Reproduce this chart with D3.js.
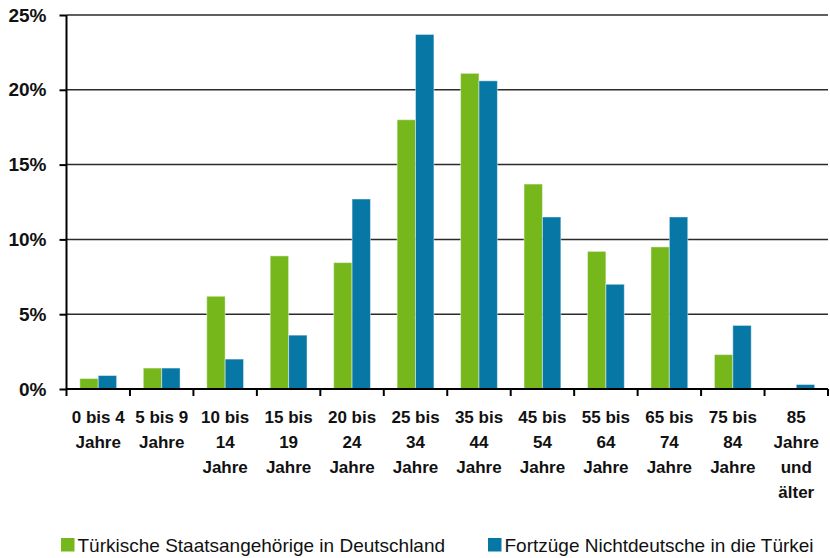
<!DOCTYPE html>
<html>
<head>
<meta charset="utf-8">
<script src="https://cdnjs.cloudflare.com/ajax/libs/d3/7.8.5/d3.min.js"></script>
<style>
    body { margin: 0; background: #fff; }
    svg { display: block; font-family: "Liberation Sans", Arial, sans-serif; }
    .grid line { stroke: #2b2b2b; stroke-width: 1.5; }
    .axis path, .axis line { stroke: #000; stroke-width: 2; }
    .axis text { font-weight: bold; fill: #111; }
</style>
</head>
<body>
<svg></svg>
<script>
// age groups, line by line
const categories = [
    ["0 bis 4", "Jahre"],
    ["5 bis 9", "Jahre"],
    ["10 bis", "14", "Jahre"],
    ["15 bis", "19", "Jahre"],
    ["20 bis", "24", "Jahre"],
    ["25 bis", "34", "Jahre"],
    ["35 bis", "44", "Jahre"],
    ["45 bis", "54", "Jahre"],
    ["55 bis", "64", "Jahre"],
    ["65 bis", "74", "Jahre"],
    ["75 bis", "84", "Jahre"],
    ["85", "Jahre", "und", "älter"]
];
const seriesNames = ["Türkische Staatsangehörige in Deutschland", "Fortzüge Nichtdeutsche in die Türkei"];
const seriesColors = ["#76b81c", "#0777a5"];
// percent values
const tuerkischeStaatsangehoerige = [0.7, 1.4, 6.2, 8.9, 8.45, 18.0, 21.1, 13.7, 9.2, 9.5, 2.3, 0.05];
const fortzuegeTuerkei = [0.9, 1.4, 2.0, 3.6, 12.7, 23.7, 20.6, 11.5, 7.0, 11.5, 4.25, 0.3];
const yTicks = [0, 5, 10, 15, 20, 25];

const values = [tuerkischeStaatsangehoerige, fortzuegeTuerkei];
const data = categories.map((c, i) => ({
    key: c.join(" "),
    lines: c,
    vals: values.map((v, s) => ({ s: s, v: v[i] }))
}));

const svg = d3.select("svg").attr("width", 830).attr("height", 558);
const margin = { top: 15, right: 2, bottom: 169, left: 66.5 };
const width = 830 - margin.left - margin.right,
    height = 558 - margin.top - margin.bottom;

const x0 = d3.scaleBand().domain(data.map(d => d.key)).range([0, width]).padding(0);
const x1 = d3.scaleBand().domain([0, 1])
    .range([x0.bandwidth() * 0.21, x0.bandwidth() * 0.79]);
const y = d3.scaleLinear().domain([0, 25]).range([height, 0]);

const g = svg.append("g").attr("transform", `translate(${margin.left}, ${margin.top})`);

// horizontal grid lines
g.append("g").attr("class", "grid")
    .selectAll("line").data(yTicks.filter(t => t > 0)).join("line")
    .attr("x1", 0).attr("x2", width)
    .attr("y1", d => y(d)).attr("y2", d => y(d));

// bars
g.append("g").selectAll("g").data(data).join("g")
    .attr("transform", d => `translate(${x0(d.key)}, 0)`)
    .selectAll("rect").data(d => d.vals).join("rect")
    .attr("x", d => x1(d.s))
    .attr("width", x1.bandwidth())
    .attr("y", d => y(d.v))
    .attr("height", d => y(0) - y(d.v))
    .attr("fill", d => seriesColors[d.s])
    .attr("stroke", "rgba(255,255,255,0.45)")
    .attr("stroke-width", 1);

// y axis
const yAxis = g.append("g").attr("class", "axis")
    .call(d3.axisLeft(y).tickValues(yTicks).tickFormat(d => d + "%").tickSize(7).tickPadding(13));
yAxis.select(".domain").attr("d", `M0,${y(25)}V${height}`);
yAxis.selectAll("text").style("font-size", "19px");

// x axis: ticks on the category borders
const xAxis = g.append("g").attr("class", "axis")
    .attr("transform", `translate(0, ${height})`);
xAxis.append("line").attr("x1", 0).attr("x2", width).attr("y1", 0).attr("y2", 0);
xAxis.selectAll(".tick").data(d3.range(categories.length + 1)).join("line")
    .attr("class", "tick")
    .attr("x1", i => i * x0.step()).attr("x2", i => i * x0.step())
    .attr("y1", 0).attr("y2", 7);

xAxis.selectAll("text").data(data).join("text")
    .attr("text-anchor", "middle")
    .attr("transform", d => `translate(${x0(d.key) + x0.bandwidth() / 2}, 34)`)
    .style("font-size", "17px")
    .selectAll("tspan").data(d => d.lines).join("tspan")
    .attr("x", 0).attr("y", (d, i) => i * 25)
    .text(d => d);

// legend
const legendX = [61, 488];
const legend = svg.append("g").selectAll("g").data(seriesNames).join("g")
    .attr("transform", (d, i) => `translate(${legendX[i]}, 538)`);
legend.append("rect").attr("width", 13.5).attr("height", 13.5)
    .attr("fill", (d, i) => seriesColors[i]);
legend.append("text").attr("x", 16.5).attr("y", 14)
    .style("font-size", "19px").attr("fill", "#111")
    .text(d => d);
</script>
</body>
</html>
